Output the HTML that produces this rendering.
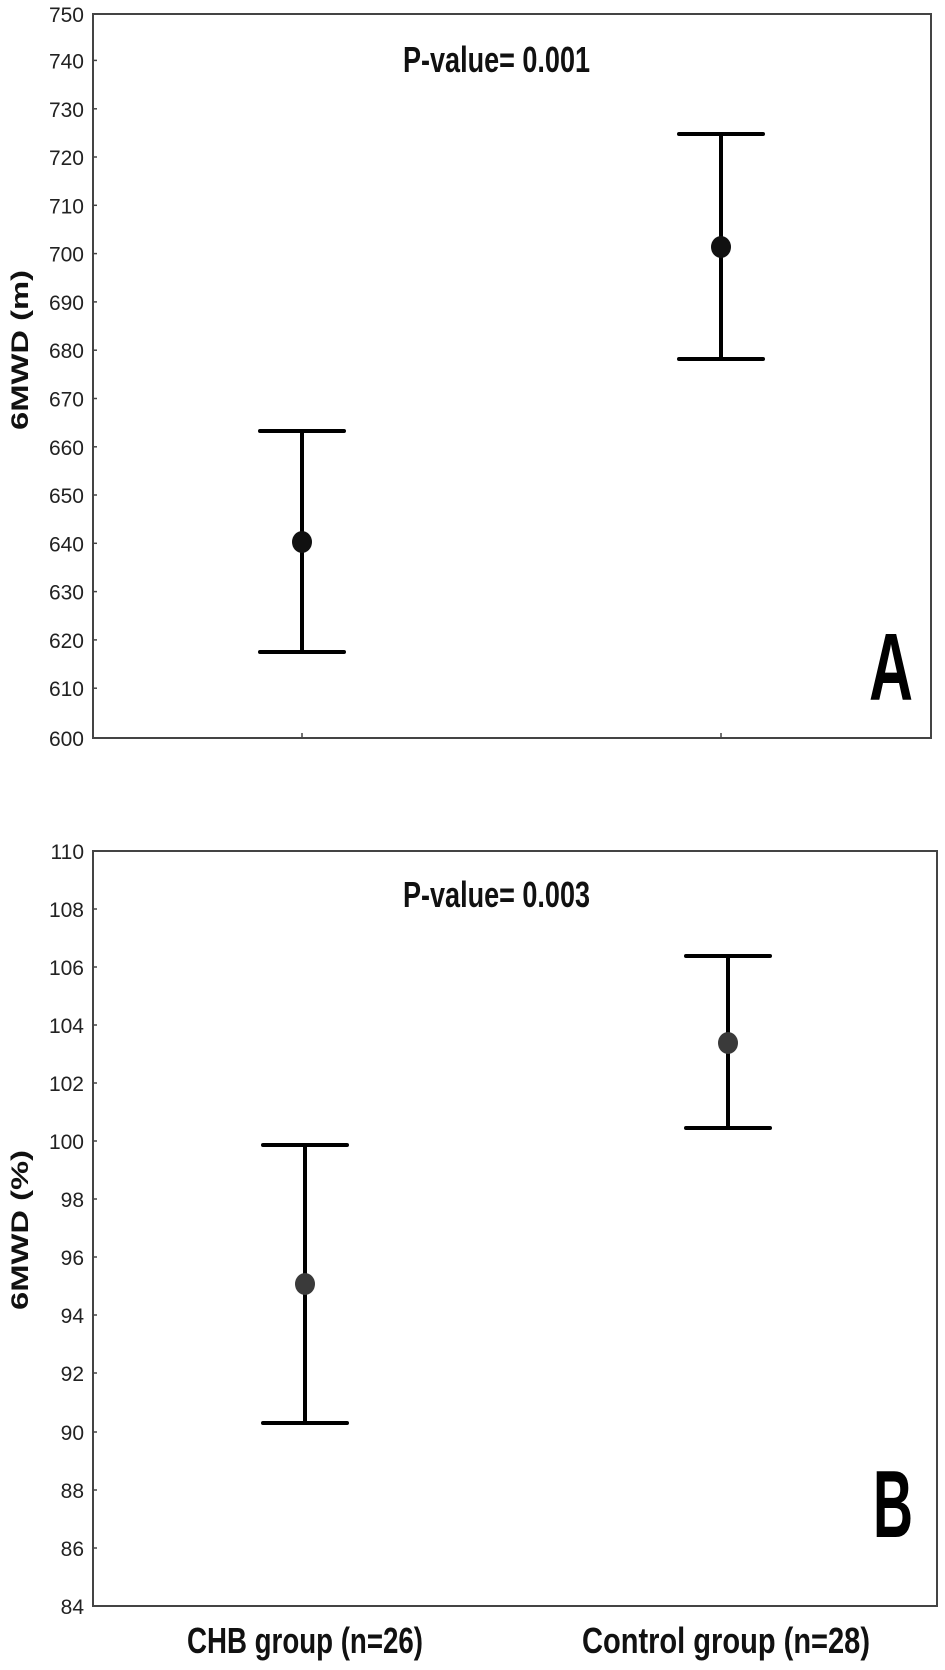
<!DOCTYPE html>
<html><head><meta charset="utf-8"><style>html,body{margin:0;padding:0;background:#fff}svg{display:block}</style></head>
<body>
<svg width="945" height="1670" viewBox="0 0 945 1670" xmlns="http://www.w3.org/2000/svg" font-family="Liberation Sans, sans-serif">
<rect width="945" height="1670" fill="#fff"/>
<!-- Panel A -->
<rect x="93" y="14" width="838" height="724" fill="none" stroke="#444" stroke-width="2"/>
<g stroke="#444" stroke-width="1.5">
<line x1="93" y1="60.4" x2="97" y2="60.4"/><line x1="93" y1="108.8" x2="97" y2="108.8"/><line x1="93" y1="157" x2="97" y2="157"/><line x1="93" y1="205.3" x2="97" y2="205.3"/><line x1="93" y1="253.6" x2="97" y2="253.6"/><line x1="93" y1="301.9" x2="97" y2="301.9"/><line x1="93" y1="350.2" x2="97" y2="350.2"/><line x1="93" y1="398.5" x2="97" y2="398.5"/><line x1="93" y1="446.8" x2="97" y2="446.8"/><line x1="93" y1="495" x2="97" y2="495"/><line x1="93" y1="543.3" x2="97" y2="543.3"/><line x1="93" y1="591.6" x2="97" y2="591.6"/><line x1="93" y1="639.9" x2="97" y2="639.9"/><line x1="93" y1="688.2" x2="97" y2="688.2"/>
<line x1="302" y1="738" x2="302" y2="733"/><line x1="721" y1="738" x2="721" y2="733"/>
</g>
<g font-size="21" fill="#222" text-anchor="end">
<text x="84" y="22">750</text><text x="84" y="68.4">740</text><text x="84" y="116.8">730</text><text x="84" y="165">720</text><text x="84" y="213.3">710</text><text x="84" y="261.6">700</text><text x="84" y="309.9">690</text><text x="84" y="358.2">680</text><text x="84" y="406.5">670</text><text x="84" y="454.8">660</text><text x="84" y="503">650</text><text x="84" y="551.3">640</text><text x="84" y="599.6">630</text><text x="84" y="647.9">620</text><text x="84" y="696.2">610</text><text x="84" y="746">600</text>
</g>
<text transform="translate(28,350) rotate(-90)" text-anchor="middle" font-size="24" font-weight="bold" fill="#111" textLength="160" lengthAdjust="spacingAndGlyphs">6MWD (m)</text>
<text x="403" y="72" font-size="36" font-weight="bold" fill="#111" textLength="187" lengthAdjust="spacingAndGlyphs">P-value= 0.001</text>
<text x="869" y="700" font-size="96" font-weight="bold" fill="#000" textLength="44" lengthAdjust="spacingAndGlyphs">A</text>
<g stroke="#000" stroke-width="4" stroke-linecap="round">
<line x1="302" y1="431" x2="302" y2="652"/><line x1="260" y1="431" x2="344" y2="431"/><line x1="260" y1="652" x2="344" y2="652"/>
<line x1="721" y1="134" x2="721" y2="359"/><line x1="679" y1="134" x2="763" y2="134"/><line x1="679" y1="359" x2="763" y2="359"/>
</g>
<ellipse cx="302" cy="542" rx="10" ry="11" fill="#111"/>
<ellipse cx="721" cy="247" rx="10" ry="11" fill="#111"/>
<!-- Panel B -->
<rect x="93" y="851" width="844" height="755" fill="none" stroke="#444" stroke-width="2"/>
<g stroke="#444" stroke-width="1.5">
<line x1="93" y1="909" x2="97" y2="909"/><line x1="93" y1="967" x2="97" y2="967"/><line x1="93" y1="1025" x2="97" y2="1025"/><line x1="93" y1="1083" x2="97" y2="1083"/><line x1="93" y1="1141" x2="97" y2="1141"/><line x1="93" y1="1199" x2="97" y2="1199"/><line x1="93" y1="1257" x2="97" y2="1257"/><line x1="93" y1="1315" x2="97" y2="1315"/><line x1="93" y1="1373" x2="97" y2="1373"/><line x1="93" y1="1432" x2="97" y2="1432"/><line x1="93" y1="1490" x2="97" y2="1490"/><line x1="93" y1="1548" x2="97" y2="1548"/>
</g>
<g font-size="21" fill="#222" text-anchor="end">
<text x="84" y="859">110</text><text x="84" y="917">108</text><text x="84" y="975">106</text><text x="84" y="1033">104</text><text x="84" y="1091">102</text><text x="84" y="1149">100</text><text x="84" y="1207">98</text><text x="84" y="1265">96</text><text x="84" y="1323">94</text><text x="84" y="1381">92</text><text x="84" y="1440">90</text><text x="84" y="1498">88</text><text x="84" y="1556">86</text><text x="84" y="1614">84</text>
</g>
<text transform="translate(28,1230) rotate(-90)" text-anchor="middle" font-size="24" font-weight="bold" fill="#111" textLength="160" lengthAdjust="spacingAndGlyphs">6MWD (%)</text>
<text x="403" y="907" font-size="36" font-weight="bold" fill="#111" textLength="187" lengthAdjust="spacingAndGlyphs">P-value= 0.003</text>
<text x="873" y="1537" font-size="96" font-weight="bold" fill="#000" textLength="40" lengthAdjust="spacingAndGlyphs">B</text>
<g stroke="#000" stroke-width="4" stroke-linecap="round">
<line x1="305" y1="1145" x2="305" y2="1423"/><line x1="263" y1="1145" x2="347" y2="1145"/><line x1="263" y1="1423" x2="347" y2="1423"/>
<line x1="728" y1="956" x2="728" y2="1128"/><line x1="686" y1="956" x2="770" y2="956"/><line x1="686" y1="1128" x2="770" y2="1128"/>
</g>
<ellipse cx="305" cy="1284" rx="10" ry="11" fill="#3a3a3a"/>
<ellipse cx="728" cy="1043" rx="10" ry="11" fill="#3a3a3a"/>
<text x="187" y="1653" font-size="36" font-weight="bold" fill="#111" textLength="236" lengthAdjust="spacingAndGlyphs">CHB group (n=26)</text>
<text x="582" y="1653" font-size="36" font-weight="bold" fill="#111" textLength="288" lengthAdjust="spacingAndGlyphs">Control group (n=28)</text>
</svg>
</body></html>
